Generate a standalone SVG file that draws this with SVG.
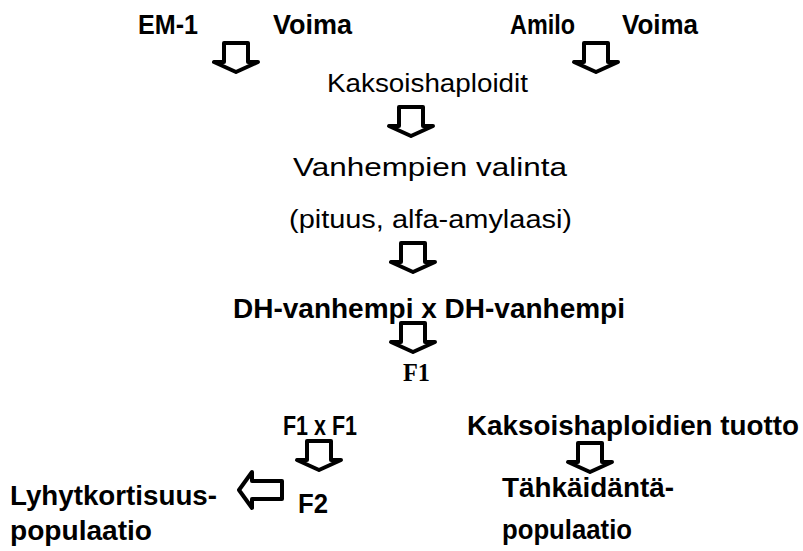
<svg xmlns="http://www.w3.org/2000/svg" width="803" height="551" viewBox="0 0 803 551">
<defs>
<style>
.b{font-family:"Liberation Sans",Arial,sans-serif;font-weight:bold;font-size:27px;fill:#000}
.r{font-family:"Liberation Sans",Arial,sans-serif;font-size:26px;fill:#000}
.s{font-family:"Liberation Serif","Times New Roman",serif;font-weight:bold;font-size:25px;fill:#000}
.arr{fill:#fff;stroke:#000;stroke-width:4;stroke-linejoin:round}
</style>
<path id="down" d="M -12,-15 H 12 V 4 H 22 L 0,14 L -22,4 H -12 Z"/>
</defs>
<rect width="803" height="551" fill="#fff"/>
<g id="connectors">
<use href="#down" class="arr" transform="translate(236,58)"/>
<use href="#down" class="arr" transform="translate(596,58)"/>
<use href="#down" class="arr" transform="translate(411,122)"/>
<use href="#down" class="arr" transform="translate(413,258)"/>
<use href="#down" class="arr" transform="translate(413,338)"/>
<use href="#down" class="arr" transform="translate(319,456)"/>
<use href="#down" class="arr" transform="translate(590,458)"/>
<path class="arr" d="M 282,481 H 252 V 472 L 239,490 L 252,508 V 499 H 282 Z"/>
</g>
<g id="em1"><text class="b" x="138" y="34" textLength="60" lengthAdjust="spacingAndGlyphs">EM-1</text></g>
<g id="voima1"><text class="b" x="273" y="34" textLength="79" lengthAdjust="spacingAndGlyphs">Voima</text></g>
<g id="amilo"><text class="b" x="510" y="34" textLength="65" lengthAdjust="spacingAndGlyphs">Amilo</text></g>
<g id="voima2"><text class="b" x="622" y="34" textLength="76" lengthAdjust="spacingAndGlyphs">Voima</text></g>
<g id="kaksoishaploidit"><text class="r" x="327" y="92" textLength="201" lengthAdjust="spacingAndGlyphs">Kaksoishaploidit</text></g>
<g id="vanhempien"><text class="r" x="293" y="176" textLength="274" lengthAdjust="spacingAndGlyphs">Vanhempien valinta</text>
<text class="r" x="289" y="228" textLength="283" lengthAdjust="spacingAndGlyphs">(pituus, alfa-amylaasi)</text></g>
<g id="dh"><text class="b" x="233" y="318" textLength="392" lengthAdjust="spacingAndGlyphs">DH-vanhempi x DH-vanhempi</text></g>
<g id="f1"><text class="s" x="403" y="381" textLength="27" lengthAdjust="spacingAndGlyphs">F1</text></g>
<g id="f1xf1"><text class="b" x="283" y="435" textLength="74" lengthAdjust="spacingAndGlyphs">F1 x F1</text></g>
<g id="dhtuotto"><text class="b" x="467" y="435" textLength="332" lengthAdjust="spacingAndGlyphs">Kaksoishaploidien tuotto</text></g>
<g id="f2"><text class="b" x="298" y="513" textLength="30" lengthAdjust="spacingAndGlyphs">F2</text></g>
<g id="lyhyt"><text class="b" x="10" y="505" textLength="207" lengthAdjust="spacingAndGlyphs">Lyhytkortisuus-</text>
<text class="b" x="10" y="540" textLength="142" lengthAdjust="spacingAndGlyphs">populaatio</text></g>
<g id="tahka"><text class="b" x="502" y="497" textLength="172" lengthAdjust="spacingAndGlyphs">Tähkäidäntä-</text>
<text class="b" x="502" y="539" textLength="130" lengthAdjust="spacingAndGlyphs">populaatio</text></g>
</svg>
